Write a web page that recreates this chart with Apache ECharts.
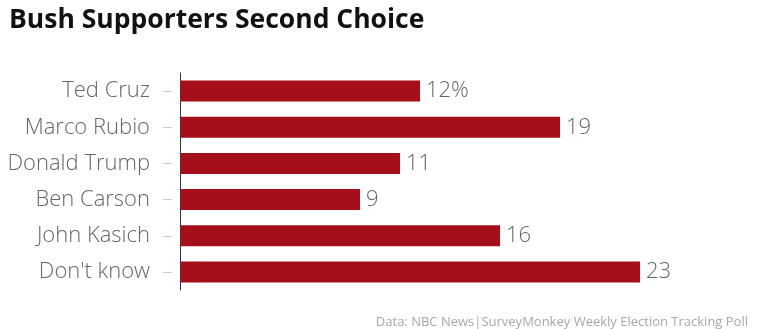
<!DOCTYPE html>
<html><head><meta charset="utf-8">
<script src="https://cdn.jsdelivr.net/npm/echarts@6/dist/echarts.min.js"></script>
<style>html,body{margin:0;padding:0;background:#fff}#c{width:760px;height:329px}</style>
</head><body><div id="c"></div>
<script>
const categories = ["Ted Cruz","Marco Rubio","Donald Trump","Ben Carson","John Kasich","Don't know"];
const values = [12,19,11,9,16,23];
const valueLabels = ["12%","19","11","9","16","23"];
const titleText = "Bush Supporters Second Choice";
const sourceText = "Data: NBC News|SurveyMonkey Weekly Election Tracking Poll";

const chart = echarts.init(document.getElementById('c'), null, {renderer:'canvas'});
chart.setOption({
  animation:false,
  title:[{text:titleText,left:4,top:2,textStyle:{fontFamily:'Open Sans',fontWeight:'bold',fontSize:26.5,color:'#111'}},
         {text:sourceText,right:7,top:311,textStyle:{fontFamily:'Open Sans',fontWeight:'normal',fontSize:13,color:'#a8a8a8'}}],
  grid:{left:180,right:80,top:73,bottom:39},
  xAxis:{type:'value',min:0,max:25,show:false},
  yAxis:[
    {type:'category',data:categories,inverse:true,axisLine:{show:true,lineStyle:{color:'#333',width:1}},axisTick:{show:false},axisLabel:{show:false}},
    {type:'category',data:categories,inverse:true,position:'left',offset:8,axisLine:{show:false},
     axisTick:{show:true,alignWithLabel:true,length:9,lineStyle:{color:'#ccc'}},
     axisLabel:{margin:22,fontFamily:'Open Sans',fontWeight:300,fontSize:22,color:'#666'}}
  ],
  series:[{type:'bar',data:values,yAxisIndex:0,barWidth:21,itemStyle:{color:'#a50f1a'},
    label:{show:true,position:'right',distance:6,fontFamily:'Open Sans',fontWeight:300,fontSize:22,color:'#666',
      formatter:p=>valueLabels[p.dataIndex]}}]
});
</script></body></html>
